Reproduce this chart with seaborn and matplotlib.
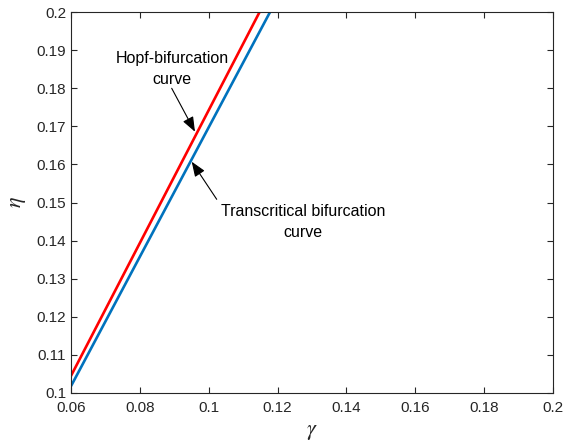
import matplotlib
matplotlib.use("Agg")
import matplotlib.pyplot as plt
import seaborn as sns
import pandas as pd

# Bifurcation curves in the (gamma, eta) plane
gamma = [0.06, 0.12]
eta_hopf = [0.1045, 0.2091]
eta_transcritical = [0.1018, 0.2037]

x_ticks = [0.06, 0.08, 0.1, 0.12, 0.14, 0.16, 0.18, 0.2]
y_ticks = [0.1, 0.11, 0.12, 0.13, 0.14, 0.15, 0.16, 0.17, 0.18, 0.19, 0.2]

sns.set_style("white")
plt.rcParams["font.family"] = ["Liberation Sans", "DejaVu Sans"]
plt.rcParams["mathtext.fontset"] = "stix"

df = pd.DataFrame({
    "gamma": gamma * 2,
    "eta": eta_hopf + eta_transcritical,
    "curve": ["Hopf"] * 2 + ["Transcritical"] * 2,
})

fig = plt.figure(figsize=(5.64, 4.46), dpi=100)
ax = fig.add_axes([71 / 564, 1 - 393 / 446, (553 - 71) / 564, (393 - 12) / 446])

sns.lineplot(data=df, x="gamma", y="eta", hue="curve",
             palette={"Hopf": "#ff0000", "Transcritical": "#0072bd"},
             linewidth=1.9, legend=False, ax=ax)

ax.set_xlim(0.06, 0.2)
ax.set_ylim(0.1, 0.2)
ax.set_xticks(x_ticks)
ax.set_xticklabels([f"{v:g}" for v in x_ticks])
ax.set_yticks(y_ticks)
ax.set_yticklabels([f"{v:g}" for v in y_ticks])

for side in ax.spines.values():
    side.set_color("#262626")
    side.set_linewidth(0.8)
ax.tick_params(axis="both", which="both", direction="in", length=4,
               width=0.8, color="#262626", labelsize=11, labelcolor="#262626",
               top=True, right=True, bottom=True, left=True)
ax.tick_params(axis="x", pad=6)

ax.set_xlabel(r"$\gamma$", fontsize=16, color="#262626", labelpad=4)
ax.set_ylabel(r"$\eta$", fontsize=16, color="#262626", labelpad=6)

# Curve labels
ax.text(0.0893, 0.1850, "Hopf-bifurcation\ncurve", ha="center", va="center",
        fontsize=11.5, linespacing=1.5, color="black")
ax.text(0.1274, 0.1449, "Transcritical bifurcation\ncurve", ha="center",
        va="center", fontsize=11.5, linespacing=1.5, color="black")

# Pointer arrows from the labels to the curves
arrow = dict(arrowstyle="-|>,head_length=0.9,head_width=0.35",
             color="black", lw=0.8, shrinkA=0, shrinkB=0)
ax.annotate("", xy=(0.09601, 0.16858), xytext=(0.08925, 0.17997),
            arrowprops=arrow)
ax.annotate("", xy=(0.09506, 0.16071), xytext=(0.10232, 0.15084),
            arrowprops=arrow)

fig.savefig("out.png", dpi=100)
